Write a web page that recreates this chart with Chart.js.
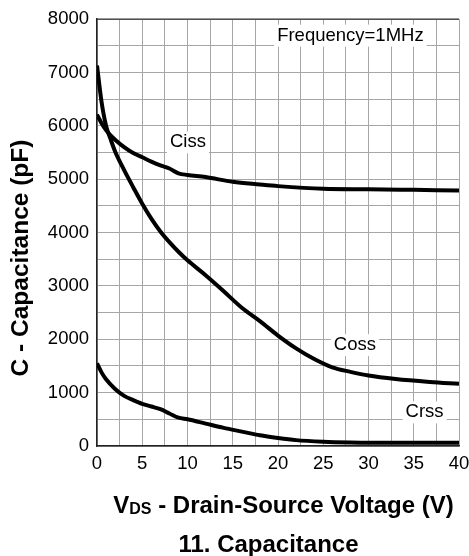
<!DOCTYPE html>
<html>
<head>
<meta charset="utf-8">
<script src="https://cdn.jsdelivr.net/npm/chart.js@4.4.0/dist/chart.umd.min.js"></script>
<style>
  html, body { margin: 0; padding: 0; background: #fff; }
  canvas { display: block; }
</style>
</head>
<body>
<canvas id="capChart" width="469" height="556"></canvas>
<script>
// values (V, pF)
var cissV = [0, 0.5, 1, 1.5, 2, 3, 4, 5, 6, 7, 8, 9, 10, 12, 15, 18, 20, 25, 30, 35, 40];
var cissC = [6210, 6050, 5920, 5820, 5740, 5600, 5490, 5410, 5330, 5260, 5200, 5110, 5080, 5040, 4950, 4900, 4870, 4820, 4810, 4800, 4790];

var cossV = [0, 0.5, 1, 1.5, 2, 3, 4, 5, 6, 7, 8, 9, 10, 12, 14, 16, 18, 20, 22, 24, 26, 28, 30, 33, 36.8, 40];
var cossC = [7130, 6450, 6000, 5750, 5520, 5170, 4850, 4540, 4260, 4020, 3820, 3640, 3480, 3200, 2900, 2590, 2340, 2070, 1830, 1630, 1475, 1390, 1320, 1255, 1200, 1165];

var crssV = [0, 0.5, 1, 2, 3, 4, 5, 6, 7, 8, 9, 10, 12, 14, 16, 18, 20, 22, 25, 28, 30, 35, 40];
var crssC = [1550, 1380, 1250, 1070, 940, 860, 790, 740, 690, 610, 530, 500, 420, 340, 270, 200, 150, 110, 80, 65, 60, 60, 60];

var curveNames = ['Ciss', 'Coss', 'Crss'];
// label anchor points in data units
var labelV = [10.05, 28.5, 36.2];
var labelC = [5690, 1890, 630];

var fontFam = '"Liberation Sans", Arial, sans-serif';

function pts(xs, ys) {
  return xs.map(function (x, i) { return { x: x, y: ys[i] }; });
}

function lineSet(name, xs, ys) {
  return {
    label: name,
    data: pts(xs, ys),
    borderColor: '#000',
    borderWidth: 4,
    pointRadius: 0,
    cubicInterpolationMode: 'monotone',
    fill: false
  };
}

var textPlugin = {
  id: 'textPlugin',
  afterDraw: function (chart) {
    var c = chart.ctx;
    var xs = chart.scales.x, ys = chart.scales.y;
    var a = chart.chartArea;
    c.save();

    // dark top frame line
    c.strokeStyle = '#333';
    c.lineWidth = 1.2;
    c.beginPath();
    c.moveTo(a.left, a.top);
    c.lineTo(a.right, a.top);
    c.stroke();

    // curve labels
    c.font = '18.5px ' + fontFam;
    c.textAlign = 'center';
    c.textBaseline = 'middle';
    for (var i = 0; i < curveNames.length; i++) {
      var px = xs.getPixelForValue(labelV[i]);
      var py = ys.getPixelForValue(labelC[i]);
      var w = c.measureText(curveNames[i]).width;
      c.fillStyle = '#fff';
      c.fillRect(px - w / 2 - 3, py - 11, w + 6, 22);
      c.fillStyle = '#000';
      c.fillText(curveNames[i], px, py);
    }

    var fx = xs.getPixelForValue(28);
    var fy = ys.getPixelForValue(7690);
    var ft = 'Frequency=1MHz';
    var fw = c.measureText(ft).width;
    c.fillStyle = '#fff';
    c.fillRect(fx - fw / 2 - 3, fy - 11, fw + 6, 22);
    c.fillStyle = '#000';
    c.fillText(ft, fx, fy);

    // y axis title
    c.save();
    c.translate(21, 258);
    c.rotate(-Math.PI / 2);
    c.font = 'bold 24.5px ' + fontFam;
    c.fillText('C - Capacitance (pF)', 0, 0);
    c.restore();

    // x axis title with subscript
    c.textAlign = 'left';
    c.textBaseline = 'alphabetic';
    var big = 'bold 24px ' + fontFam, small = 'bold 16px ' + fontFam;
    var rest = ' - Drain-Source Voltage (V)';
    c.font = big;
    var wV = c.measureText('V').width, wR = c.measureText(rest).width;
    c.font = small;
    var wD = c.measureText('DS').width;
    var sx = 283.5 - (wV + wD + wR) / 2, by = 513;
    c.font = big;
    c.fillText('V', sx, by);
    c.font = small;
    c.fillText('DS', sx + wV, by + 1);
    c.font = big;
    c.fillText(rest, sx + wV + wD, by);

    // caption
    c.textAlign = 'center';
    c.fillText('11. Capacitance', 268.5, 552);
    c.restore();
  }
};

var config = {
  type: 'line',
  data: {
    datasets: [
      lineSet('Ciss', cissV, cissC),
      lineSet('Coss', cossV, cossC),
      lineSet('Crss', crssV, crssC)
    ]
  },
  options: {
    responsive: false,
    animation: false,
    layout: { padding: { top: 17, right: 0, left: 0, bottom: 0 } },
    plugins: { legend: { display: false }, tooltip: { enabled: false } },
    scales: {
      x: {
        type: 'linear',
        min: 0,
        max: 40,
        afterFit: function (s) { s.height = 110; s.paddingRight = 10; },
        grid: { color: '#a6a6a6', lineWidth: 1, drawTicks: false },
        border: { color: '#222', width: 1.5 },
        ticks: {
          stepSize: 2.5,
          autoSkip: false,
          maxRotation: 0,
          padding: 7,
          color: '#000',
          font: { family: fontFam, size: 18.5 },
          callback: function (v) { return v % 5 === 0 ? v : ''; }
        }
      },
      y: {
        min: 0,
        max: 8000,
        afterFit: function (s) { s.width = 97; },
        grid: { color: '#a6a6a6', lineWidth: 1, drawTicks: false },
        border: { color: '#222', width: 1.5 },
        ticks: {
          stepSize: 500,
          autoSkip: false,
          padding: 8,
          color: '#000',
          font: { family: fontFam, size: 18.5 },
          callback: function (v) { return v % 1000 === 0 ? v : ''; }
        }
      }
    }
  },
  plugins: [textPlugin]
};

var ctx = document.getElementById('capChart').getContext('2d');
var capChart = new Chart(ctx, config);
</script>
</body>
</html>
